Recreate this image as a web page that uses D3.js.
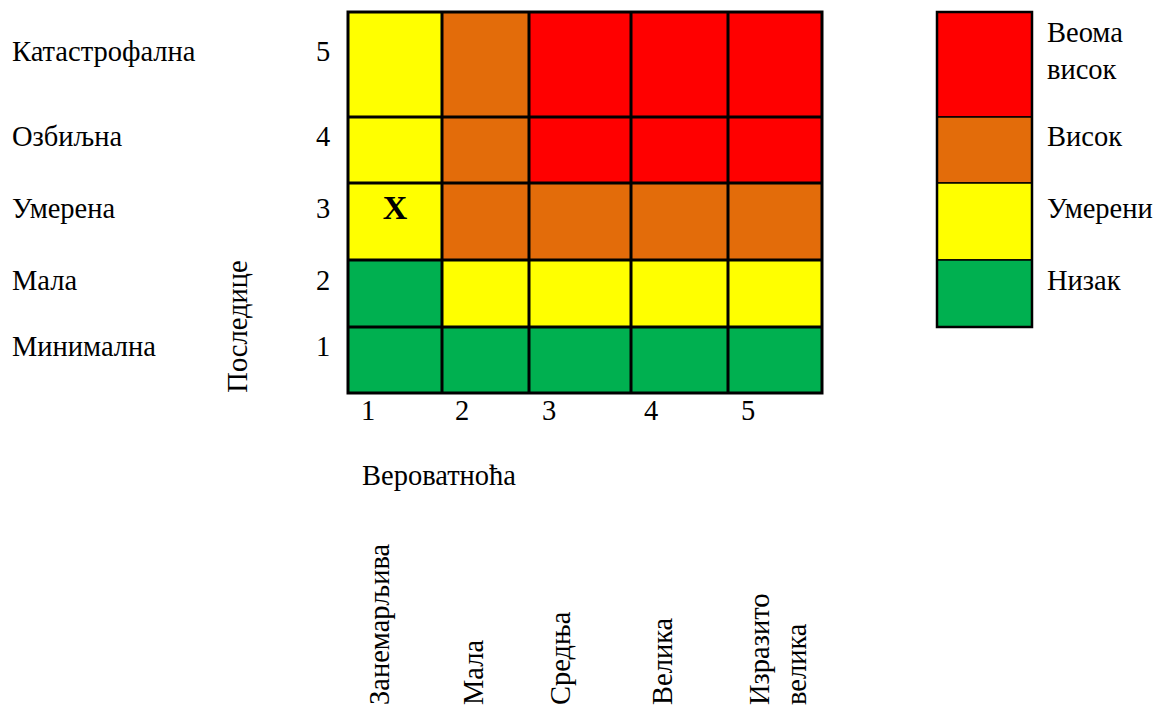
<!DOCTYPE html>
<html>
<head>
<meta charset="utf-8">
<script src="https://cdn.jsdelivr.net/npm/d3@7"></script>
<style>
  body { margin: 0; background: #fff; }
  text { font-family: "Liberation Serif", "Times New Roman", serif; fill: #000; }
</style>
</head>
<body>
<div id="chart"></div>
<script>
// ===== ПОДАЦИ =====
const probability = [1, 2, 3, 4, 5];
const probabilityNames = [['Занемарљива'], ['Мала'], ['Средња'], ['Велика'], ['Изразито', 'велика']];
const consequence = [5, 4, 3, 2, 1];
const consequenceNames = ['Катастрофална', 'Озбиљна', 'Умерена', 'Мала', 'Минимална'];
// ниво ризика по ћелији (редови: последице 5 → 1, колоне: вероватноћа 1 → 5)
const riskLevels = [
  [2, 3, 4, 4, 4],
  [2, 3, 4, 4, 4],
  [2, 3, 3, 3, 3],
  [1, 2, 2, 2, 2],
  [1, 1, 1, 1, 1]
];
const levels = [4, 3, 2, 1];
const levelNames = { 1: ['Низак'], 2: ['Умерени'], 3: ['Висок'], 4: ['Веома', 'висок'] };
const levelColors = { 1: '#00b050', 2: '#ffff00', 3: '#e36c0a', 4: '#ff0000' };
const marker = { probability: 1, consequence: 3, label: 'X' };

// ===== РАСПОРЕД =====
const width = 1158, height = 710;
const grid = { left: 348, right: 822, top: 12, bottom: 393 };
const colWeights = [94, 87, 102, 97, 94];
const rowWeights = [105, 66, 77, 67, 66];
const legend = { left: 937, right: 1032 };
const fontSize = 28.5;

const svg = d3.select('#chart').append('svg')
  .attr('width', width)
  .attr('height', height);

// скале са неједнаким ширинама колона / висинама редова
const colEdges = d3.cumsum([0, ...colWeights]);
const rowEdges = d3.cumsum([0, ...rowWeights]);
const xs = d3.scaleLinear().domain([0, colEdges[colEdges.length - 1]]).range([grid.left, grid.right]);
const ys = d3.scaleLinear().domain([0, rowEdges[rowEdges.length - 1]]).range([grid.top, grid.bottom]);
const colIndex = d3.scaleOrdinal().domain(probability).range(d3.range(probability.length));
const rowIndex = d3.scaleOrdinal().domain(consequence).range(d3.range(consequence.length));
const x0 = p => xs(colEdges[colIndex(p)]);
const x1 = p => xs(colEdges[colIndex(p) + 1]);
const y0 = c => ys(rowEdges[rowIndex(c)]);
const y1 = c => ys(rowEdges[rowIndex(c) + 1]);
const yMid = c => (y0(c) + y1(c)) / 2;

// ===== ЋЕЛИЈЕ =====
const cells = consequence.flatMap((c, r) => probability.map((p, i) => ({ c, p, level: riskLevels[r][i] })));

svg.append('g').selectAll('rect')
  .data(cells)
  .join('rect')
  .attr('x', d => x0(d.p))
  .attr('y', d => y0(d.c))
  .attr('width', d => x1(d.p) - x0(d.p))
  .attr('height', d => y1(d.c) - y0(d.c))
  .attr('fill', d => levelColors[d.level]);

const lines = svg.append('g').attr('stroke', '#000').attr('stroke-width', 3);
lines.selectAll('.v')
  .data(probability.slice(1))
  .join('line')
  .attr('x1', d => x0(d)).attr('x2', d => x0(d))
  .attr('y1', grid.top).attr('y2', grid.bottom);
lines.selectAll('.h')
  .data(consequence.slice(1))
  .join('line')
  .attr('y1', d => y0(d)).attr('y2', d => y0(d))
  .attr('x1', grid.left).attr('x2', grid.right);
svg.append('rect')
  .attr('x', grid.left).attr('y', grid.top)
  .attr('width', grid.right - grid.left).attr('height', grid.bottom - grid.top)
  .attr('fill', 'none').attr('stroke', '#000').attr('stroke-width', 3);

// ознака X
svg.append('text')
  .attr('x', (x0(marker.probability) + x1(marker.probability)) / 2)
  .attr('y', yMid(marker.consequence) - 3)
  .attr('text-anchor', 'middle')
  .attr('font-size', 34)
  .attr('font-weight', 'bold')
  .text(marker.label);

// ===== ЛЕВЕ ОЗНАКЕ =====
svg.append('g').selectAll('text')
  .data(consequence)
  .join('text')
  .attr('x', 12)
  .attr('y', d => yMid(d) - 4)
  .attr('font-size', fontSize)
  .text((d, i) => consequenceNames[i]);

svg.append('g').selectAll('text')
  .data(consequence)
  .join('text')
  .attr('x', grid.left - 25)
  .attr('y', d => yMid(d) - 4)
  .attr('text-anchor', 'middle')
  .attr('font-size', fontSize)
  .text(d => d);

svg.append('text')
  .attr('transform', `translate(247,${(y0(2) + grid.bottom) / 2}) rotate(-90)`)
  .attr('text-anchor', 'middle')
  .attr('font-size', fontSize)
  .text('Последице');

// ===== ДОЊЕ ОЗНАКЕ =====
svg.append('g').selectAll('text')
  .data(probability)
  .join('text')
  .attr('x', d => x0(d) + 20)
  .attr('y', grid.bottom + 27)
  .attr('text-anchor', 'middle')
  .attr('font-size', fontSize)
  .text(d => d);

svg.append('text')
  .attr('x', 362)
  .attr('y', 485)
  .attr('font-size', fontSize)
  .text('Вероватноћа');

svg.append('g').selectAll('text')
  .data(probability)
  .join('text')
  .attr('transform', d => `translate(${x0(d) + 41},705) rotate(-90)`)
  .attr('font-size', fontSize)
  .selectAll('tspan')
  .data((d, i) => probabilityNames[i])
  .join('tspan')
  .attr('x', 0)
  .attr('y', (d, j) => j * 37)
  .text(d => d);

// ===== ЛЕГЕНДА =====
const lg = svg.append('g');
lg.selectAll('rect')
  .data(levels)
  .join('rect')
  .attr('x', legend.left)
  .attr('y', (d, i) => y0(consequence[i]))
  .attr('width', legend.right - legend.left)
  .attr('height', (d, i) => y1(consequence[i]) - y0(consequence[i]))
  .attr('fill', d => levelColors[d])
  .attr('stroke', '#000')
  .attr('stroke-width', 1.5);
lg.append('rect')
  .attr('x', legend.left).attr('y', y0(consequence[0]))
  .attr('width', legend.right - legend.left)
  .attr('height', y1(consequence[levels.length - 1]) - y0(consequence[0]))
  .attr('fill', 'none').attr('stroke', '#000').attr('stroke-width', 2.5);

lg.selectAll('text')
  .data(levels)
  .join('text')
  .attr('font-size', fontSize)
  .selectAll('tspan')
  .data((d, i) => levelNames[d].map((t, j, arr) => ({ t, j, n: arr.length, c: consequence[i] })))
  .join('tspan')
  .attr('x', 1047)
  .attr('y', d => yMid(d.c) - 4 + (d.j - (d.n - 1) / 2) * 37)
  .text(d => d.t);
</script>
</body>
</html>
